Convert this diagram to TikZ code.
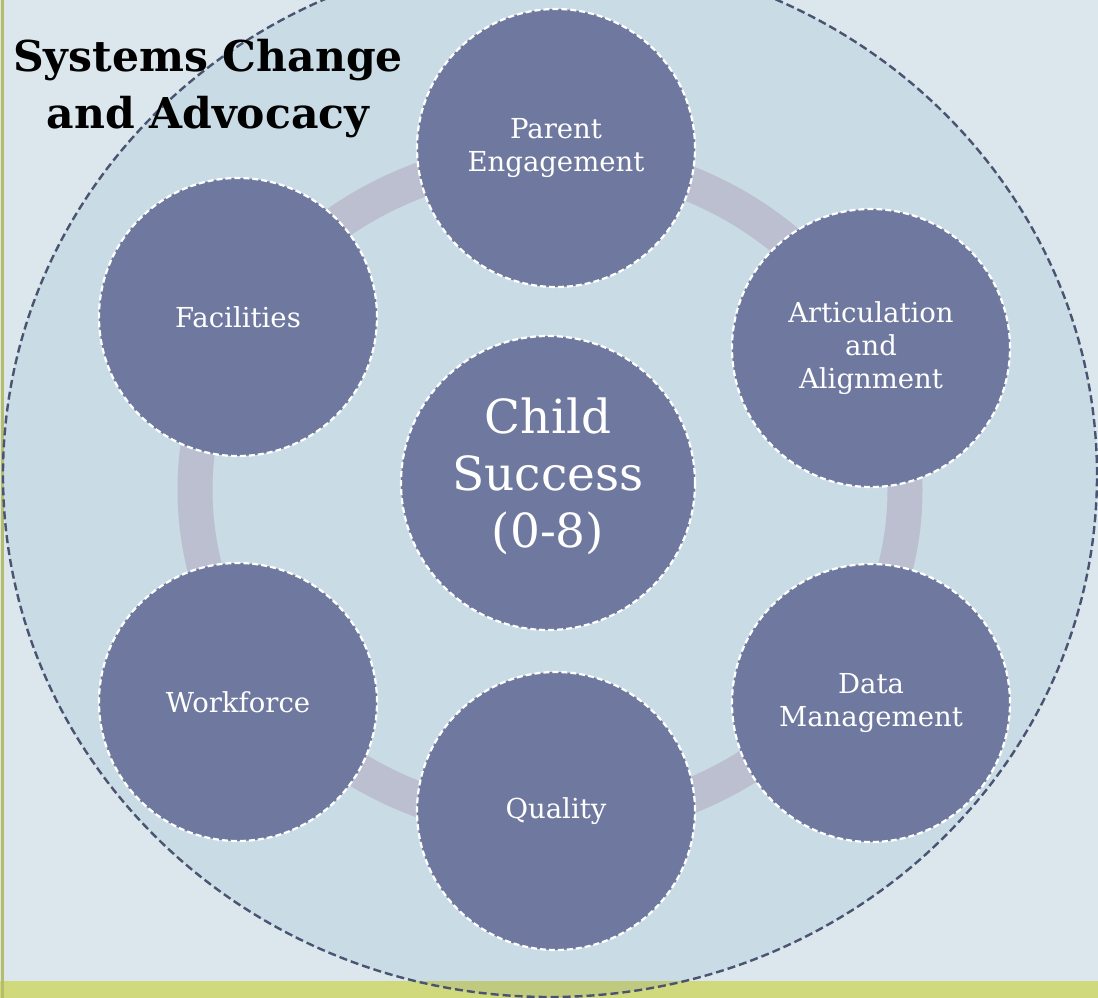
\documentclass[tikz,border=0pt]{standalone}
\usepackage{fontspec}
\setmainfont{DejaVu Serif}
\definecolor{bgc}{HTML}{DBE7EC}
\definecolor{ellc}{HTML}{C9DBE4}
\definecolor{circc}{HTML}{6F799F}
\definecolor{ringc}{HTML}{BBBFCF}
\definecolor{edgec}{HTML}{4B5373}
\definecolor{bandc}{HTML}{D1D97D}
\definecolor{bandin}{HTML}{BFCA7F}
\definecolor{linec}{HTML}{B5BC6A}
\begin{document}
\begin{tikzpicture}[x=1pt,y=-1pt,
  hub/.style={circle, fill=circc, draw=white, line width=2.2pt,
    dash pattern=on 6pt off 3pt, minimum size=278pt, inner sep=0pt,
    text=white, align=center, font=\fontsize{27.5}{33}\selectfont},
  bighub/.style={hub, minimum size=294pt},
  hubtext/.style={text=white, align=center, inner sep=0pt, font=\fontsize{47}{57}\selectfont},
  outline/.style={draw=edgec, line width=2.4pt, dash pattern=on 8pt off 4pt}]
\useasboundingbox (0,0) rectangle (1098,998);
\fill[bgc] (0,0) rectangle (1098,998);
\fill[bandc] (0,981) rectangle (1098,998);
\fill[ellc] (550,475) ellipse [x radius=547pt, y radius=522pt];
\begin{scope}
  \clip (0,981) rectangle (1098,998);
  \fill[bandin] (550,475) ellipse [x radius=547pt, y radius=522pt];
\end{scope}
\draw[linec, line width=3pt] (2,0) -- (2,998);
\draw[ringc, line width=35pt] (550,490) ellipse [x radius=355pt, y radius=333pt];
\node[hub] (parent) at (556,148) {Parent\\Engagement};
\node[hub] (artic) at (871,348) {Articulation\\and\\Alignment};
\node[hub] (data) at (871,703) {Data\\Management};
\node[hub] (quality) at (556,811) {Quality};
\node[hub] (work) at (238,702) {Workforce};
\node[hub] (facil) at (238,317) {Facilities};
\node[bighub] (child) at (548,483) {};
\node[hubtext] (childlbl) at ([yshift=7pt]child.center) {Child\\Success\\(0-8)};
\draw[outline] (550,475) ellipse [x radius=547pt, y radius=522pt];
\node[align=center, font=\fontsize{42.5}{57}\selectfont\bfseries, inner sep=0pt] (title) at (208,89) {Systems Change\\and Advocacy};
\end{tikzpicture}
\end{document}
